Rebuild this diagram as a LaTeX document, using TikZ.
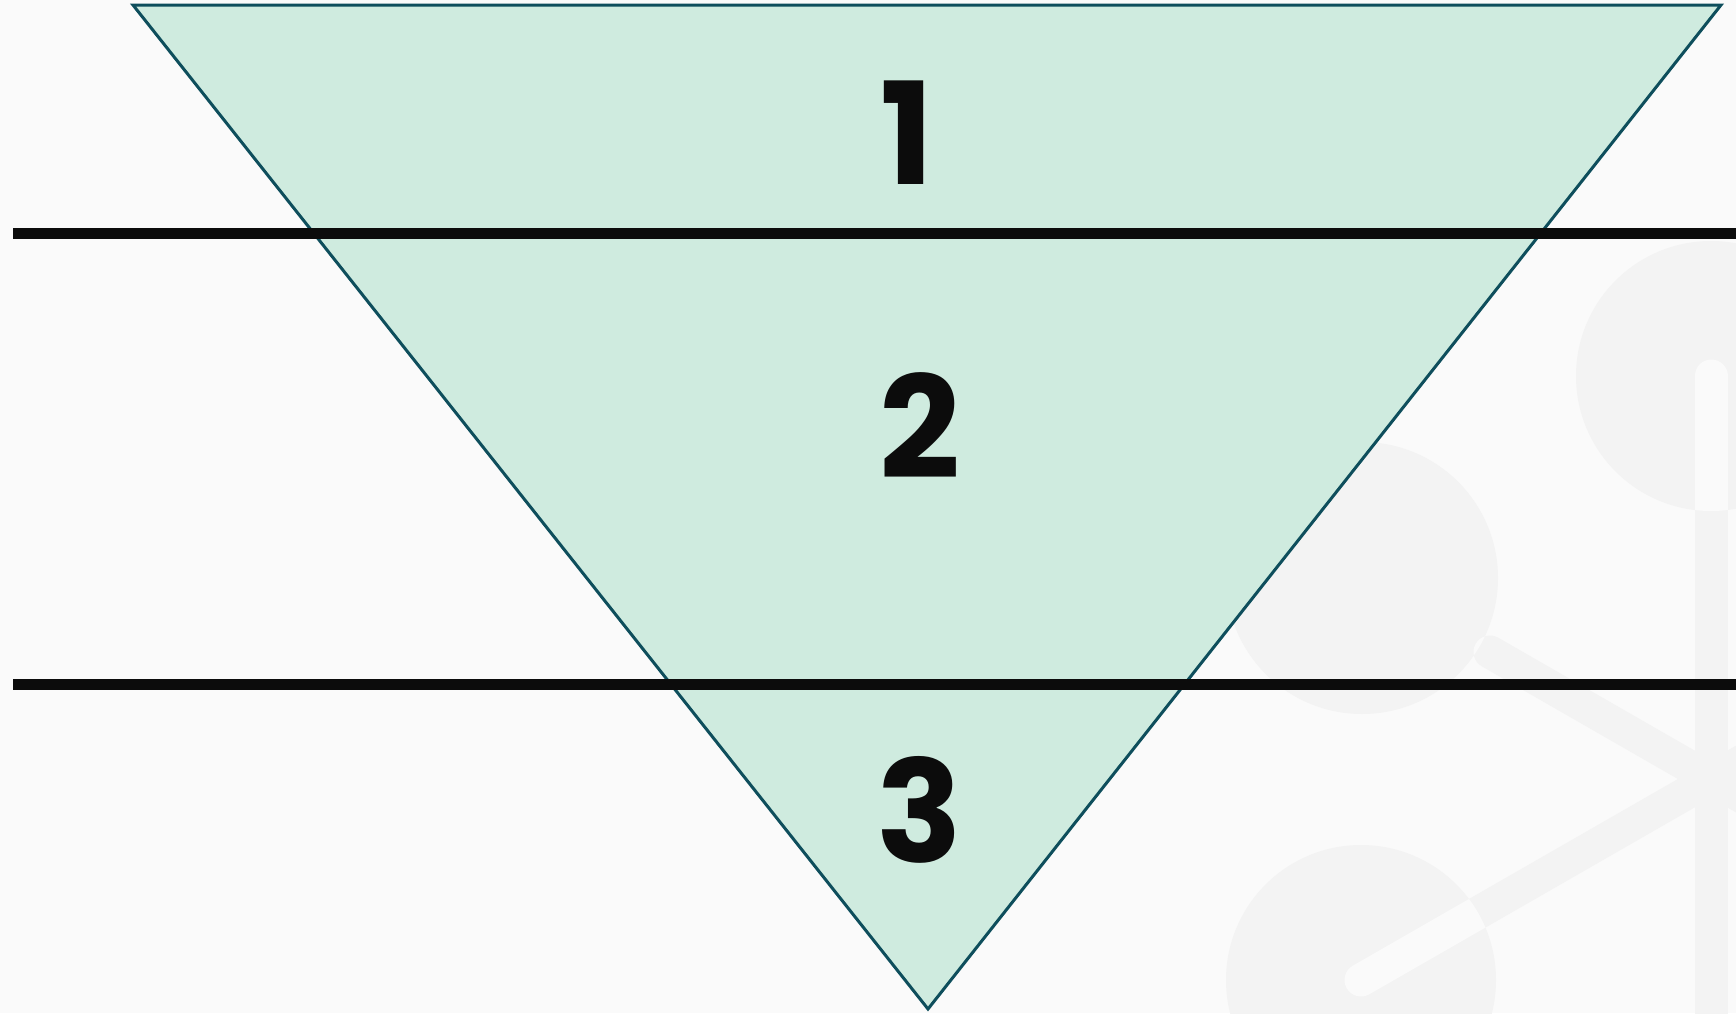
\documentclass[tikz,border=0pt]{standalone}
\usepackage{fontspec}
\newfontfamily\numfont{Poppins}
\usepackage{tikz}
\usetikzlibrary{calc}
\definecolor{paper}{HTML}{FAFAFA}
\definecolor{molgray}{HTML}{F3F3F3}
\definecolor{tealfill}{HTML}{CFEBDF}
\definecolor{tealedge}{HTML}{0E4E5C}
\definecolor{ink}{HTML}{0C0C0C}

\begin{document}
\begin{tikzpicture}[x=0.5pt,y=-0.5pt,
    bond/.style={line width=16.5pt,line cap=round},
    level/.style={draw=ink,line width=5.5pt},
    digit/.style={inner sep=0pt,text=ink,font=\numfont\bfseries\fontsize{71}{71}\selectfont}]
  \useasboundingbox (0,0) rectangle (1736,1013);
  \fill[paper] (0,0) rectangle (1736,1013);
  % molecule in the background
  \coordinate (atomA) at (1711,376);
  \coordinate (atomB) at (1362,578);
  \coordinate (atomC) at (1361,980);
  \coordinate (hub) at (1711,779);
  \coordinate (bondB) at (1490,652);
  \begin{scope}
    \clip (0,0) rectangle (1736,1013);
    \draw[bond,molgray] (atomA) -- (1711,1100);
    \draw[bond,molgray] (atomC) -- (hub) -- ($(hub)!-0.4!(atomC)$);
    \draw[bond,molgray] (bondB) -- (hub) -- ($(hub)!-0.4!(bondB)$);
    \fill[molgray] (atomA) circle [radius=135] (atomB) circle [radius=136] (atomC) circle [radius=135];
    \clip (atomA) circle [radius=135] (atomB) circle [radius=136] (atomC) circle [radius=135];
    \draw[bond,paper] (atomA) -- (1711,1100);
    \draw[bond,paper] (atomC) -- (hub);
    \draw[bond,paper] (bondB) -- (hub);
  \end{scope}
  % funnel
  \coordinate (topL) at (133,5);
  \coordinate (topR) at (1721,5);
  \coordinate (tip) at (928,1009);
  \draw[fill=tealfill,draw=tealedge,line width=1.5pt,line join=miter] (topL) -- (topR) -- (tip) -- cycle;
  \node[digit] (one) at (907,133) {1};
  \node[digit] (two) at (920,426) {2};
  \node[digit] (three) at (919,810) {3};
  % levels
  \coordinate (cutA) at (13,233.5);
  \coordinate (cutB) at (13,684);
  \draw[level] (cutA) -- (1736,233.5);
  \draw[level] (cutB) -- (1736,684);
\end{tikzpicture}
\end{document}
